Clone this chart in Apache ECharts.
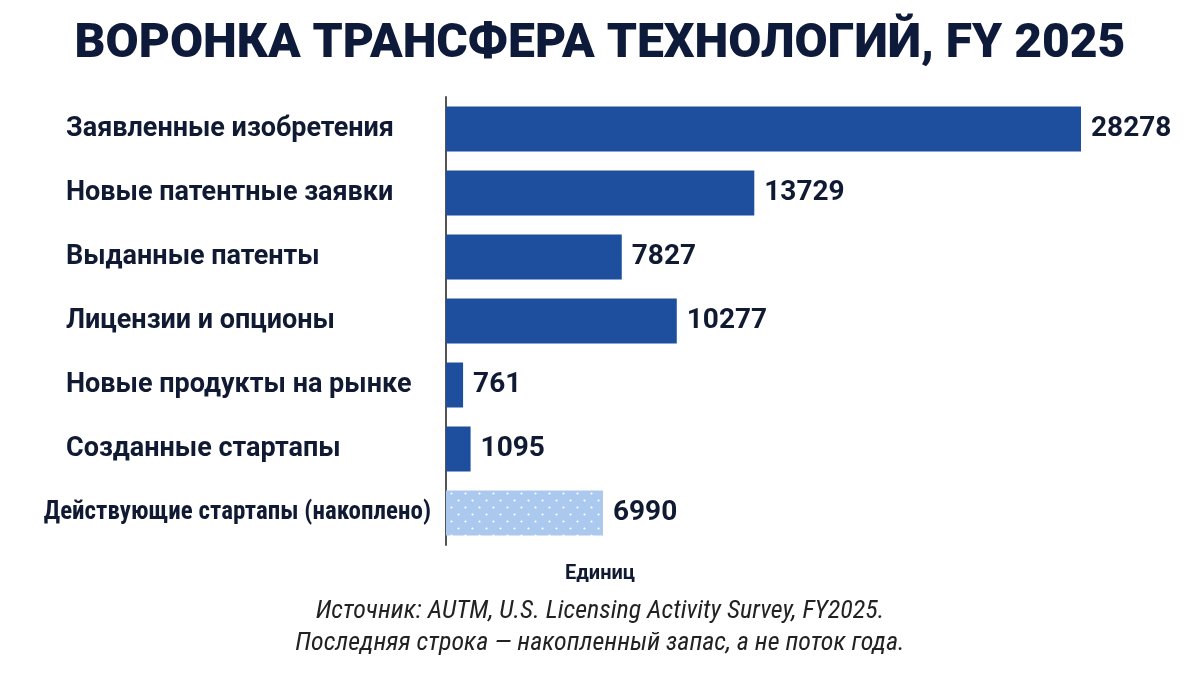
<!DOCTYPE html>
<html>
<head>
<meta charset="utf-8">
<script src="https://cdn.jsdelivr.net/npm/echarts@6/dist/echarts.min.js"></script>
<style>
html,body{margin:0;padding:0;background:#fff;}
#chart{width:1200px;height:674px;}
</style>
</head>
<body>
<div id="chart"></div>
<script>
// данные
var categories = ['Заявленные изобретения', 'Новые патентные заявки', 'Выданные патенты',
	'Лицензии и опционы', 'Новые продукты на рынке', 'Созданные стартапы', 'Действующие стартапы (накоплено)'];
var values = [28278, 13729, 7827, 10277, 761, 1095, 6990];
var stockIndex = 6; // последняя строка - накопленный запас

// узор в точку для последнего столбца
function dotPattern() {
	var c = document.createElement('canvas');
	c.width = 14; c.height = 14;
	var ctx = c.getContext('2d');
	ctx.fillStyle = '#abc8ef';
	ctx.fillRect(0, 0, 14, 14);
	ctx.fillStyle = '#ffffff';
	ctx.beginPath(); ctx.arc(3.5, 3.5, 1.1, 0, Math.PI * 2); ctx.fill();
	ctx.beginPath(); ctx.arc(10.5, 10.5, 1.1, 0, Math.PI * 2); ctx.fill();
	return c;
}

var chart = echarts.init(document.getElementById('chart'));
var barData = [];
for (var i = 0; i < values.length; i++) {
	if (i == stockIndex) {
		barData.push({value: values[i], itemStyle: {color: {image: dotPattern(), repeat: 'repeat'}}});
	} else {
		barData.push(values[i]);
	}
}

var option = {
	backgroundColor: '#ffffff',
	title: {
		text: 'ВОРОНКА ТРАНСФЕРА ТЕХНОЛОГИЙ, FY 2025',
		left: 'center',
		top: 16,
		textStyle: {fontFamily: 'Roboto', fontWeight: 900, fontSize: 48, color: '#0e1a3a'}
	},
	grid: {left: 446, right: 119, top: 97, bottom: 129},
	xAxis: {
		type: 'value',
		min: 0,
		max: 28278,
		axisLine: {show: false},
		axisTick: {show: false},
		axisLabel: {show: false},
		splitLine: {show: false}
	},
	yAxis: {
		type: 'category',
		inverse: true,
		data: categories,
		axisLine: {show: true, lineStyle: {color: '#555555', width: 2}},
		axisTick: {show: false},
		axisLabel: {
			margin: 15,
			align: 'right',
			formatter: function (v, idx) {
				return idx == stockIndex ? '{b|' + v + '}' : '{a|' + v + '}';
			},
			rich: {
				a: {width: 365, align: 'left', fontFamily: 'Roboto', fontWeight: 'bold', fontSize: 27, color: '#111a33'},
				b: {fontFamily: 'Roboto Condensed, Liberation Sans Narrow, Roboto', fontWeight: 'bold', fontSize: 25, color: '#111a33'}
			}
		}
	},
	series: [{
		type: 'bar',
		data: barData,
		barWidth: 45,
		itemStyle: {color: '#1d4f9e'},
		label: {
			show: true,
			position: 'right',
			distance: 10,
			fontFamily: 'Roboto',
			fontWeight: 'bold',
			fontSize: 28,
			color: '#111a33'
		}
	}],
	graphic: [
		{type: 'text', left: 'center', top: 564, style: {text: 'Единиц', fontFamily: 'Roboto', fontWeight: 'bold', fontSize: 20, fill: '#111a33'}},
		{type: 'text', left: 'center', top: 598, style: {text: 'Источник: AUTM, U.S. Licensing Activity Survey, FY2025.', fontFamily: 'Liberation Sans Narrow, Roboto Condensed, Roboto', fontStyle: 'italic', fontSize: 26, fill: '#222222'}},
		{type: 'text', left: 'center', top: 630, style: {text: 'Последняя строка — накопленный запас, а не поток года.', fontFamily: 'Liberation Sans Narrow, Roboto Condensed, Roboto', fontStyle: 'italic', fontSize: 26, fill: '#222222'}}
	]
};
chart.setOption(option);
</script>
</body>
</html>
